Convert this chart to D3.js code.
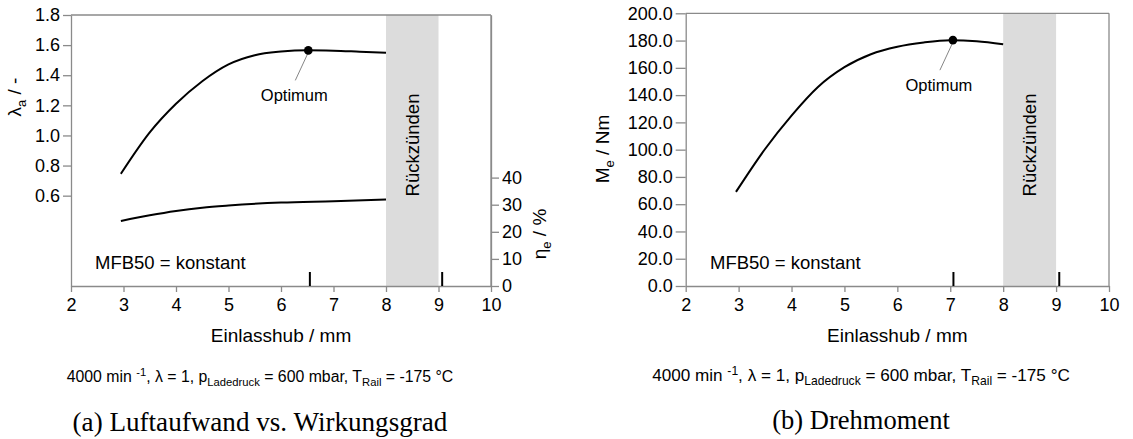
<!DOCTYPE html>
<html>
<head>
<meta charset="utf-8">
<script src="https://cdn.jsdelivr.net/npm/d3@7"></script>
<style>
  body { margin: 0; background: #fff; }
  svg { display: block; }
  text { font-family: "Liberation Sans", Arial, sans-serif; fill: #000; }
  .caption { font-family: "Liberation Serif", "Times New Roman", serif; }
</style>
</head>
<body>
<svg id="chart" width="1133" height="439"></svg>
<script>
// Einlasshub / mm
const xTicks = [2, 3, 4, 5, 6, 7, 8, 9, 10];

// (a) Luftaufwand
const hubLambda = [2.95, 3.5, 4, 4.5, 5, 5.5, 6, 6.5, 7, 7.5, 8];
const lambdaA = [0.745, 1.02, 1.21, 1.36, 1.472, 1.533, 1.557, 1.566, 1.563, 1.556, 1.549];
const lambdaTicks = [0.6, 0.8, 1.0, 1.2, 1.4, 1.6, 1.8];

// (a) Wirkungsgrad
const hubEta = [2.95, 3.5, 4, 4.5, 5, 6, 7, 8];
const etaE = [24.0, 26.1, 27.7, 28.9, 29.7, 30.8, 31.3, 31.9];
const etaTicks = [0, 10, 20, 30, 40];

// (b) Drehmoment
const hubTorque = [2.95, 3.5, 4, 4.5, 5, 5.5, 6, 6.5, 7, 7.5, 8];
const torque = [69, 100.5, 125, 146, 160.5, 170, 175.5, 178.6, 180.2, 179.5, 177.3];
const torqueTicks = [0, 20, 40, 60, 80, 100, 120, 140, 160, 180, 200];

const optimumA = [6.52, 1.565];
const optimumB = [7.05, 180.3];
const markersA = [6.55, 9.07];
const markersB = [7.06, 9.06];
const rueckBand = [8, 9];

const grey = "#8a8a8a";
const svg = d3.select("#chart");

function styleAxis(g) {
    g.select(".domain").attr("stroke", grey).attr("stroke-width", 1.3);
    g.selectAll(".tick line").attr("stroke", grey).attr("stroke-width", 1.3);
    g.selectAll(".tick text").style("font-size", "18px").attr("fill", "#000");
}

function panel(p) {
    const g = svg.append("g");
    const x = d3.scaleLinear().domain([2, 10]).range([p.left, p.right]);
    const y = d3.scaleLinear().domain([0, p.yMax]).range([p.bottom, p.top]);

    // Rückzünden band
    g.append("rect")
        .attr("x", x(rueckBand[0]))
        .attr("y", p.top)
        .attr("width", x(rueckBand[1]) - x(rueckBand[0]))
        .attr("height", p.bottom - p.top)
        .attr("fill", "#dcdcdc");
    g.append("text")
        .attr("transform", `translate(${x((rueckBand[0] + rueckBand[1]) / 2)},145) rotate(-90)`)
        .attr("text-anchor", "middle")
        .attr("dominant-baseline", "central")
        .style("font-size", "18.5px")
        .text("Rückzünden");

    // frame top / right
    g.append("line")
        .attr("x1", x(2)).attr("x2", x(10))
        .attr("y1", p.top).attr("y2", p.top)
        .attr("stroke", grey).attr("stroke-width", 1.3);
    g.append("line")
        .attr("x1", x(10)).attr("x2", x(10))
        .attr("y1", p.top).attr("y2", p.bottom)
        .attr("stroke", grey).attr("stroke-width", 1.3);

    g.append("g")
        .attr("transform", `translate(0,${p.bottom})`)
        .call(d3.axisBottom(x).tickValues(xTicks).tickFormat(d3.format("d"))
            .tickSize(6).tickSizeOuter(0).tickPadding(6))
        .call(styleAxis);

    g.append("g")
        .attr("transform", `translate(${p.left},0)`)
        .call(d3.axisLeft(y).tickValues(p.yTicks).tickFormat(d3.format(".1f"))
            .tickSize(p.tickLen).tickSizeOuter(0).tickPadding(3))
        .call(styleAxis);

    // axis titles
    g.append("text")
        .attr("x", (p.left + p.right) / 2).attr("y", 342)
        .attr("text-anchor", "middle")
        .style("font-size", "19px")
        .text("Einlasshub / mm");

    const yl = g.append("text")
        .attr("transform", `translate(${p.yLabelX},${p.yLabelY}) rotate(-90)`)
        .attr("text-anchor", "middle")
        .style("font-size", "19px");
    yl.append("tspan").text(p.yLabel[0]);
    yl.append("tspan").attr("dy", 5).style("font-size", "13px").text(p.yLabel[1]);
    yl.append("tspan").attr("dy", -5).text(p.yLabel[2]);

    const line = d3.line().x(d => x(d[0])).y(d => y(d[1])).curve(d3.curveMonotoneX);
    g.append("path")
        .datum(d3.zip(p.xs, p.ys))
        .attr("d", line)
        .attr("fill", "none")
        .attr("stroke", "#000")
        .attr("stroke-width", 2);

    // optimum
    const ox = x(p.opt[0]), oy = y(p.opt[1]);
    g.append("line")
        .attr("x1", ox).attr("y1", oy + 2)
        .attr("x2", ox - 13).attr("y2", oy + 30)
        .attr("stroke", "#666").attr("stroke-width", 0.8);
    g.append("circle").attr("cx", ox).attr("cy", oy).attr("r", 4.3).attr("fill", "#000");
    g.append("text")
        .attr("x", ox - 14).attr("y", oy + 51)
        .attr("text-anchor", "middle")
        .style("font-size", "16.5px")
        .text("Optimum");

    // black markers on x axis
    g.selectAll(".marker")
        .data(p.markers)
        .enter().append("line")
        .attr("x1", d => x(d)).attr("x2", d => x(d))
        .attr("y1", p.bottom - 14).attr("y2", p.bottom)
        .attr("stroke", "#000").attr("stroke-width", 2);

    g.append("text")
        .attr("x", p.mfbX).attr("y", 269)
        .style("font-size", "18.5px")
        .text("MFB50 = konstant");

    // operating point subtitle
    const st = g.append("text")
        .attr("x", p.subX).attr("y", p.subY)
        .attr("text-anchor", "middle")
        .style("font-size", p.subSize + "px");
    const small = Math.round(p.subSize * 0.72) + "px";
    st.append("tspan").text("4000 min ");
    st.append("tspan").attr("dy", -6).style("font-size", small).text("-1");
    st.append("tspan").attr("dy", 6).text(", λ = 1, p");
    st.append("tspan").attr("dy", 4).style("font-size", small).text("Ladedruck");
    st.append("tspan").attr("dy", -4).text(" = 600 mbar, T");
    st.append("tspan").attr("dy", 4).style("font-size", small).text("Rail");
    st.append("tspan").attr("dy", -4).text(" = -175 °C");
    fitWidth(st, p.subW, p.subSize);

    const cap = g.append("text")
        .attr("class", "caption")
        .attr("x", p.subX).attr("y", p.capY)
        .attr("text-anchor", "middle")
        .style("font-size", "24px")
        .text(p.caption);
    fitWidth(cap, p.capW, 24);

    return { g, x, y };
}

function fitWidth(sel, target, size) {
    const w = sel.node().getBBox().width;
    if (w > 0) {
        const k = target / w;
        sel.style("font-size", (size * k) + "px");
        sel.selectAll("tspan").each(function() {
            const fs = parseFloat(this.style.fontSize);
            if (fs) d3.select(this).style("font-size", (fs * k) + "px")
                .attr("dy", d3.select(this).attr("dy") ? +d3.select(this).attr("dy") * k : null);
        });
    }
}

// (a)
const a = panel({
    left: 71, right: 491, top: 15, bottom: 286, yMax: 1.8, yTicks: lambdaTicks, tickLen: 8,
    yLabel: ["λ", "a", " / -"], yLabelX: 21, yLabelY: 97,
    xs: hubLambda, ys: lambdaA, opt: optimumA, markers: markersA, mfbX: 95,
    subX: 260, subY: 382, subSize: 15.5, subW: 387,
    caption: "(a) Luftaufwand vs. Wirkungsgrad", capY: 431, capW: 375
});
const etaY = d3.scaleLinear().domain([0, 100]).range([286, 15]);
a.g.append("g")
    .attr("transform", "translate(491,0)")
    .call(d3.axisRight(etaY).tickValues(etaTicks).tickSize(8).tickSizeOuter(0).tickPadding(3))
    .call(styleAxis);
a.g.append("path")
    .datum(d3.zip(hubEta, etaE))
    .attr("d", d3.line().x(d => a.x(d[0])).y(d => etaY(d[1])).curve(d3.curveMonotoneX))
    .attr("fill", "none").attr("stroke", "#000").attr("stroke-width", 2);
const el = a.g.append("text")
    .attr("transform", "translate(546,234) rotate(-90)")
    .attr("text-anchor", "middle")
    .style("font-size", "19px");
el.append("tspan").text("η");
el.append("tspan").attr("dy", 5).style("font-size", "13px").text("e");
el.append("tspan").attr("dy", -5).text(" / %");

// (b)
panel({
    left: 685.7, right: 1109, top: 13.3, bottom: 286, yMax: 200, yTicks: torqueTicks, tickLen: 10,
    yLabel: ["M", "e", " / Nm"], yLabelX: 609, yLabelY: 149,
    xs: hubTorque, ys: torque, opt: optimumB, markers: markersB, mfbX: 710,
    subX: 861, subY: 381, subSize: 17, subW: 418,
    caption: "(b) Drehmoment", capY: 429, capW: 178
});
</script>
</body>
</html>
